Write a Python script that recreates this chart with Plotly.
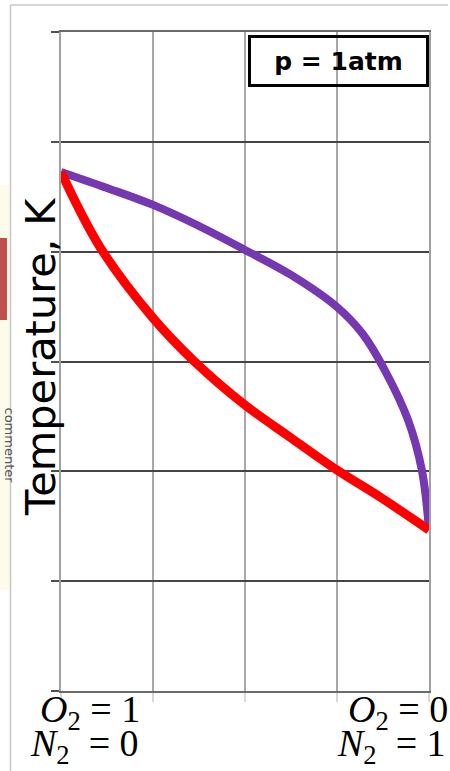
import plotly.graph_objects as go

# composition axis: 0 = pure O2, 1 = pure N2
red_x = [0.0, 0.106, 0.25, 0.364, 0.5, 0.622, 0.75, 0.867, 1.0]
red_T = [93.63, 90.21, 86.98, 84.98, 83.02, 81.56, 80.06, 78.83, 77.33]
purple_x = [0.0, 0.125, 0.25, 0.375, 0.5, 0.625, 0.75, 0.82, 0.88, 0.943, 0.981, 1.0]
purple_T = [93.63, 92.90, 92.13, 91.17, 90.08, 88.94, 87.48, 86.25, 84.60, 82.34, 80.02, 77.33]

x_ticks = [0, 0.25, 0.5, 0.75, 1.0]
y_ticks = [70, 75, 80, 85, 90, 95, 100]

W, H = 450, 771
L, R, T, B = 61, 21, 32, 80
pw, ph = W - L - R, H - T - B

def px(xp):
    return (xp - L) / pw

def py(yp):
    return (H - B - yp) / ph

fig = go.Figure()
fig.add_trace(go.Scatter(x=purple_x, y=purple_T, mode="lines",
                         line=dict(color="#7538b0", width=8, shape="spline", smoothing=1.0),
                         hoverinfo="skip"))
fig.add_trace(go.Scatter(x=red_x, y=red_T, mode="lines",
                         line=dict(color="#ff0000", width=9, shape="spline", smoothing=1.0),
                         hoverinfo="skip"))

fig.update_layout(
    width=W, height=H,
    margin=dict(l=L, r=R, t=T, b=B, pad=0),
    paper_bgcolor="white", plot_bgcolor="white",
    showlegend=False,
    xaxis=dict(range=[0, 1], tickvals=x_ticks, showticklabels=False,
               showgrid=True, gridcolor="#a8a8a8", gridwidth=1.5,
               ticks="outside", ticklen=9, tickcolor="#d8d8d8", tickwidth=1.5,
               showline=True, linecolor="#6a6a6a", linewidth=2, mirror=True,
               zeroline=False, fixedrange=True),
    yaxis=dict(range=[70, 100], tickvals=y_ticks, showticklabels=False,
               showgrid=True, gridcolor="#454545", gridwidth=2,
               ticks="outside", ticklen=8, tickcolor="#505050", tickwidth=2,
               showline=True, linecolor="#a0a0a0", linewidth=1.5, mirror=True,
               zeroline=False, fixedrange=True),
)

# page decorations: outer frame, side tab
fig.add_shape(type="rect", xref="paper", yref="paper",
              x0=px(0), x1=px(10), y0=py(590), y1=py(185),
              fillcolor="#fdfbea", line=dict(width=0), layer="below")
fig.add_shape(type="rect", xref="paper", yref="paper",
              x0=px(0), x1=px(7), y0=py(320), y1=py(238),
              fillcolor="#c0504d", line=dict(width=0))
fig.add_shape(type="line", xref="paper", yref="paper",
              x0=px(10.5), x1=px(10.5), y0=py(5), y1=py(771),
              line=dict(color="#c8c8c8", width=1.5))
fig.add_shape(type="line", xref="paper", yref="paper",
              x0=px(10.5), x1=px(448), y0=py(5), y1=py(5),
              line=dict(color="#c8c8c8", width=1.5))

fig.add_annotation(text="commenter", xref="paper", yref="paper",
                   x=px(0), y=py(445), textangle=90, showarrow=False,
                   font=dict(family="DejaVu Sans", size=13, color="#555555"))

# y-axis title
fig.add_annotation(text="Temperature, K", xref="paper", yref="paper",
                   x=px(40), y=py(357), textangle=-90, showarrow=False,
                   xanchor="center", yanchor="middle",
                   font=dict(family="DejaVu Sans", size=41.5, color="black"))

# pressure box
fig.add_annotation(text="<b>p = 1atm</b>", xref="paper", yref="paper",
                   x=1, y=py(35), xanchor="right", yanchor="top", showarrow=False,
                   width=169, height=40, borderpad=3, borderwidth=3,
                   bordercolor="black", align="center",
                   font=dict(family="DejaVu Sans", size=25, color="black"))

# composition labels
lab_font = dict(family="Liberation Serif", size=38, color="black")
labels = [
    ("<i>O</i><sub>2</sub>&nbsp;= 1", 142, 712),
    ("<i>N</i><sub>2</sub>&nbsp;&nbsp;= 0", 141, 746),
    ("<i>O</i><sub>2</sub>&nbsp;= 0", 450, 712),
    ("<i>N</i><sub>2</sub>&nbsp;&nbsp;= 1", 448, 746),
]
for txt, xr, yc in labels:
    fig.add_annotation(text=txt, xref="paper", yref="paper",
                       x=px(xr), y=py(yc), xanchor="right", yanchor="middle",
                       showarrow=False, font=lab_font)

fig.write_html("out.html", config={"displayModeBar": False},
               post_script="document.body.style.margin='0';document.body.style.overflow='hidden';")
